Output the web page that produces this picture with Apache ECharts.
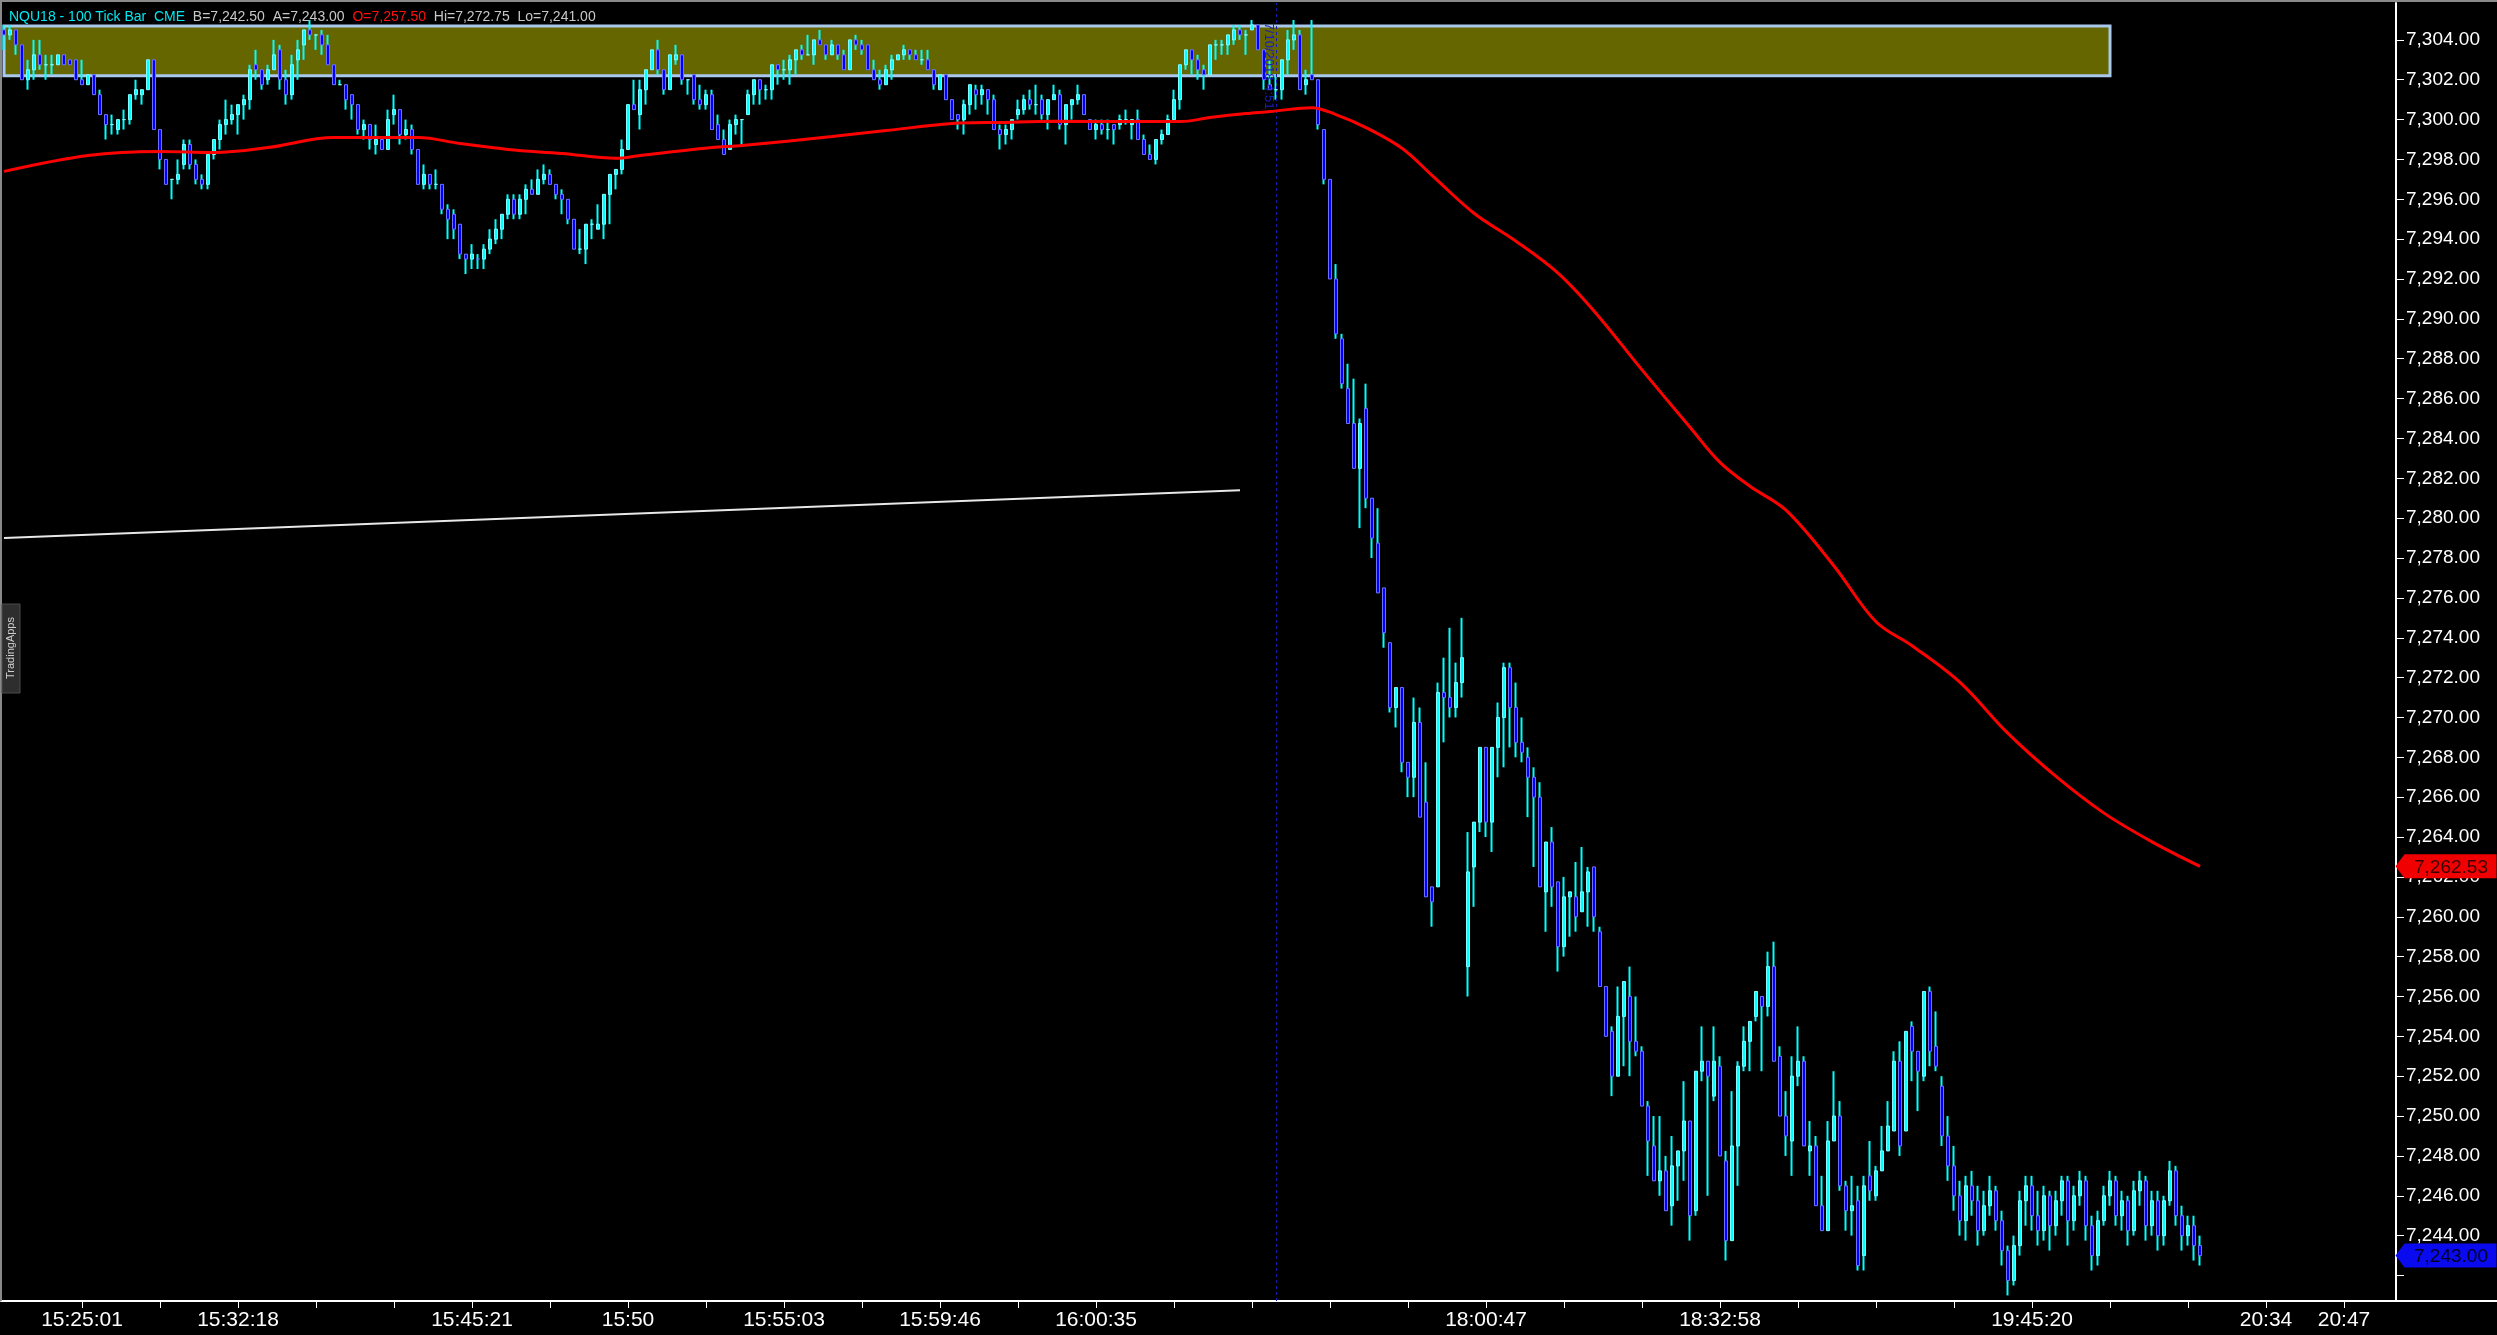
<!DOCTYPE html>
<html><head><meta charset="utf-8">
<script src="https://cdn.jsdelivr.net/npm/echarts@6/dist/echarts.min.js"></script>
<style>html,body{margin:0;padding:0;background:#000;overflow:hidden}#c{width:2497px;height:1335px}</style>
</head><body><div id="c"></div><script>
// ---- data (100 tick bars) ----
const opens = [
7304.5,7304.25,7304.5,7303.75,7302,7302.5,7303.25,7302.75,7302.75,7302.75,
7303.25,7303,7303,7302,7301.75,7302.25,7301.25,7300.25,7299.75,7299.5,
7300,7300,7301.25,7301.25,7301.5,7303,7299.5,7298,7297,7297,
7297.75,7298.75,7297.75,7297,7296.75,7298.25,7299,7299.75,7300,7300.25,
7300.75,7301,7302.75,7302.5,7302,7302.5,7303.5,7302,7301.25,7303,
7303.75,7304.5,7304.25,7304.25,7303.75,7302.75,7301.75,7301.75,7301.25,7300.75,
7299.5,7299.75,7298.75,7299,7298.5,7300.25,7300.5,7299.25,7299.5,7298.5,
7296.75,7297.25,7296.75,7296.75,7295.5,7295.25,7294.75,7293.25,7293,7293,
7293,7293.5,7294,7294.5,7295.25,7296,7295.25,7296,7296.5,7296.25,
7297,7297.25,7296.75,7296.25,7296,7295,7293.5,7293.5,7294.75,7294.5,
7294.75,7296.25,7297.25,7297.5,7298.5,7300.75,7300.25,7301.5,7302.5,7303.5,
7302.5,7301.5,7303,7303.25,7302,7302.25,7301,7300.75,7301.25,7299.75,
7299,7298.5,7299.75,7300,7300.25,7301.25,7302,7301.5,7301.5,7302.75,
7302.5,7302.5,7303,7303.5,7303.25,7303.25,7304,7303.75,7303.25,7303.75,
7303.25,7302.5,7304,7303.75,7303.75,7302.5,7302,7301.75,7302.5,7303,
7303.25,7303.5,7303.25,7303,7303,7302.5,7301.5,7302.25,7301,7300.25,
7300,7300.75,7301.5,7301.25,7301.5,7301,7299.5,7299.25,7299.5,7300.25,
7300.5,7301,7300.75,7301,7300.25,7301,7301.25,7299.75,7300.75,7301,
7301.25,7300,7299.5,7299.75,7299.5,7299.75,7299.75,7300,7299.75,7300,
7299,7298.25,7298,7299,7299.25,7300,7301,7302.75,7303.5,7303,
7302.5,7302.25,7303.75,7303.75,7303.75,7304,7304.5,7304.25,7304.5,7304.75,
7303.5,7301.75,7301.5,7301.5,7303,7304,7304.25,7301.75,7302.25,7302,
7299.5,7297,7292,7289,7286.5,7284.75,7282.5,7285.5,7281,7278.75,
7276.5,7273.75,7270.5,7271.5,7267.75,7267,7269.75,7265.75,7261.5,7261.5,
7271.25,7271,7270.5,7271.75,7257.5,7262.5,7264.75,7268.5,7264.75,7268.5,
7270,7272.5,7270.5,7268.75,7268,7267,7266,7261.25,7263.75,7261.75,
7258.5,7261,7261,7260.25,7261.25,7262.5,7259.25,7256.5,7254.25,7252,
7255,7256,7253.75,7253.25,7250.5,7248.5,7246.75,7247.25,7245.5,7247.5,
7248.25,7249.75,7245.25,7252.25,7252.75,7251,7252.5,7247.75,7243.75,7248.5,
7252.5,7253.75,7255,7256,7255.5,7257.5,7253,7250,7248.75,7252,
7252.75,7248.25,7248.5,7245.5,7244.25,7248.75,7250,7246.5,7245.25,7245.75,
7243,7247,7246,7247.25,7248.25,7249.25,7252.75,7249.25,7254.5,7253.25,
7252,7256.25,7253.5,7251.5,7249,7247.5,7246,7244.75,7246.5,7245.75,
7244.25,7245.5,7246.25,7244.75,7243.25,7241.75,7243.5,7245.75,7246.5,7245,
7244.25,7246,7244.5,7245.75,7246.75,7244.75,7246,7246.75,7244.5,7243,
7244.75,7246,7246.75,7245,7245.75,7244.25,7246.25,7246.75,7244.5,7245.75,
7244,7245.75,7247.25,7245,7244,7244.5,7243.5
];
const closes = [
7304.25,7304.5,7303.75,7302,7302.5,7303.25,7302.75,7302.75,7302.75,7303.25,
7302.75,7302.75,7302,7301.75,7302.25,7301.25,7300.25,7299.75,7299.75,7300,
7300,7301.25,7301.5,7301.5,7303,7299.5,7298,7296.75,7297,7297.25,
7298.75,7297.75,7297,7296.75,7298.25,7299,7299.75,7300,7300.25,7300.75,
7301,7302.5,7302.5,7301.75,7302.5,7303.25,7302,7301.25,7302.75,7303.5,
7304.5,7304.25,7304.25,7303.75,7302.75,7301.75,7301.75,7301,7300.75,7299.5,
7299.75,7299,7299,7298.5,7300,7300.5,7299.25,7299.5,7298.5,7296.75,
7297.25,7296.75,7296.75,7295.5,7295,7294.5,7293.25,7293,7293.25,7293,
7293.5,7294,7294.5,7295.25,7296,7295.25,7296,7296.5,7296.25,7297,
7297.25,7296.75,7296.25,7296,7295,7293.5,7293.5,7294.75,7294.75,7294.75,
7296.25,7297.25,7297.5,7298.5,7300.75,7300.5,7301.5,7302.5,7303.5,7302.5,
7301.5,7303.25,7303.25,7302,7302,7301,7300.75,7301.25,7299.5,7299,
7298.25,7299.75,7300,7300,7301.25,7302,7301.5,7301.5,7302.75,7302.5,
7302.5,7303,7303.5,7303.25,7303.25,7304,7303.75,7303.25,7303.75,7303.25,
7302.5,7304,7303.75,7303.5,7302.5,7302,7301.75,7302.5,7303,7303.25,
7303.5,7303.25,7303,7303,7302.5,7301.75,7302.25,7301,7300,7300,
7300.75,7301.75,7301.25,7301.5,7301,7299.5,7299.25,7299.5,7300,7300.5,
7301,7300.75,7300.75,7300.25,7301,7301.25,7299.75,7300.75,7301,7301.25,
7300.25,7299.5,7299.75,7299.5,7299.5,7299.5,7300,7300,7300,7299,
7298.25,7298,7299,7299.25,7300,7301,7302.75,7303.5,7303,7302.5,
7302.25,7303.75,7303.75,7303.75,7304.25,7304.5,7304.25,7304.25,7304.75,7303.5,
7302,7301.5,7301.5,7303,7304,7304.25,7301.5,7302,7302,7299.75,
7297,7292,7289.25,7286.75,7284.75,7282.5,7284.75,7281,7279,7276.25,
7274.25,7270.5,7271.5,7267.75,7267,7269.75,7265,7261,7260.75,7271.25,
7271,7270.5,7271.75,7273,7262.25,7264.75,7268.5,7264.75,7268.5,7270,
7272.5,7270.5,7268.75,7268.25,7267,7266,7261.5,7263.75,7261.5,7258.5,
7261,7261.25,7260,7261.25,7262.25,7260,7256.5,7254,7252,7255,
7256.75,7253.75,7253.25,7250.5,7248.75,7246.75,7247.25,7245.25,7247.5,7248.25,
7249.75,7245,7252.25,7252.75,7252,7252.75,7248,7243.75,7248.5,7252.5,
7253.75,7254.75,7256.25,7255.5,7257.5,7252.75,7250,7249,7252,7252.75,
7248.5,7248.5,7245.5,7244.25,7248.75,7250,7246.5,7245.25,7245.5,7242.5,
7246.5,7246.25,7247.25,7248.25,7249.5,7252.75,7248.5,7254.25,7253.25,7252.25,
7256.25,7253.25,7252.5,7249,7247.5,7246,7244.75,7246.5,7245.75,7244.25,
7245.5,7246.25,7244.75,7243.25,7241.75,7243.5,7245.75,7246.5,7245,7244.25,
7246,7244.5,7245.75,7246.75,7244.75,7246,7246.75,7244.5,7243,7244.75,
7246,7246.75,7245,7245.75,7244.25,7246.25,7246.75,7244.5,7245.75,7244,
7245.75,7247.25,7245,7244,7244.5,7243.5,7243
];
const lows = [
7303.5,7304,7303.25,7302,7301.5,7302,7302.5,7302,7302.25,7302.75,
7302.75,7302.75,7302,7301.75,7301.75,7301.25,7300.25,7299,7299.25,7299.25,
7299.5,7299.75,7301,7300.75,7301.5,7299.5,7297.5,7296.75,7296,7296.75,
7297.5,7297.5,7296.75,7296.5,7296.5,7298,7298.5,7299.25,7299.75,7299.25,
7300,7300.5,7302,7301.5,7301.75,7302.5,7301.5,7300.75,7301,7302,
7303,7304,7303.5,7303.25,7302.75,7301.75,7301.75,7300.5,7300,7299.25,
7299,7298.5,7298.25,7298.5,7298.5,7299.75,7298.75,7299,7298.25,7296.75,
7296.5,7296.5,7296.5,7295.25,7294,7294,7293,7292.25,7292.5,7292.5,
7292.5,7293.25,7293.75,7294,7295,7295,7295,7295.25,7296.25,7296.25,
7296.75,7296.75,7296,7295.25,7294.75,7293.5,7293.25,7292.75,7294,7294.5,
7294,7294.75,7296.5,7297.25,7298.5,7300.5,7299.5,7300.75,7302.5,7302.25,
7301.25,7301.5,7302.75,7301.75,7301.25,7300.75,7300.5,7300.5,7299.5,7299,
7298.25,7298.5,7299.25,7298.75,7300.25,7300.75,7300.75,7301,7301,7301.75,
7302,7301.75,7302.25,7303,7303.25,7302.75,7303.75,7303,7303.25,7303,
7302.5,7302.5,7303.5,7303.25,7302.5,7302,7301.5,7301.75,7302,7303,
7303,7303,7303,7302.75,7302.5,7301.5,7301.5,7301,7300,7299.5,
7299.25,7300.25,7300.5,7300.75,7300.25,7299.5,7298.5,7298.75,7299,7300,
7300.25,7300.5,7300.25,7300,7299.5,7301,7299.5,7298.75,7300,7300.75,
7300.25,7299.5,7299,7299.25,7299,7298.75,7299.5,7299.75,7299,7299,
7298.25,7298,7297.75,7298.75,7299.25,7300,7300.5,7302.5,7302.25,7302,
7301.5,7302.25,7303,7303.25,7303.25,7303.75,7304,7303.25,7304.5,7303.5,
7301.5,7301.5,7301,7301,7302.25,7303.5,7301.5,7301.25,7302,7299.5,
7296.75,7292,7289,7286.5,7284.75,7282.5,7279.5,7280.5,7278,7276.25,
7273.5,7270.25,7269.5,7267.25,7266,7266,7265,7261,7259.5,7261.5,
7268.75,7270,7270,7271,7256,7260.5,7264.25,7264,7263.25,7267,
7267.5,7268.5,7268,7267.75,7265,7262.5,7261.5,7259.25,7260.5,7257.25,
7258,7259,7259.25,7260.25,7259.5,7259.25,7256.5,7254,7251,7252,
7252.5,7252,7253,7250.5,7247,7246.75,7246,7245.25,7244.5,7245.75,
7246.75,7243.75,7245,7251.75,7246,7250.75,7248,7242.75,7243.75,7246.5,
7252.25,7252.25,7254.75,7252.25,7255,7252.75,7250,7248,7247,7251.5,
7248.5,7247,7245.5,7244.25,7244.25,7248.75,7246.25,7244.25,7244,7242.25,
7242.25,7245.75,7245.75,7247.25,7248.25,7249.25,7248,7249.25,7251.75,7250.25,
7251.75,7252.5,7252.25,7248.5,7246.75,7245.25,7244,7243.75,7245,7243.5,
7244,7245,7244.25,7242.5,7241,7241.5,7243,7244.5,7244.25,7243.5,
7243.75,7243.25,7244,7245,7243.5,7244.25,7245.5,7243.75,7242.25,7242.5,
7244.5,7245.5,7244.5,7244.25,7243.5,7244,7245.5,7243.75,7244,7243.25,
7243.5,7245.5,7244.5,7243.25,7243.5,7242.75,7242.5
];
const highs = [
7304.75,7304.75,7304.5,7303.75,7303,7304,7304,7303.25,7303.25,7303.25,
7303.25,7303,7303,7303,7302.25,7302.25,7301.5,7300.25,7300.25,7300,
7300.5,7301.25,7302,7301.5,7303,7303,7299.5,7298,7297,7298,
7299,7299,7298,7297.25,7298.25,7299,7300,7301,7300.75,7300.75,
7301.25,7302.75,7303.5,7302.5,7302.75,7304,7303.75,7302.5,7303.25,7304,
7304.5,7305,7304.25,7304.5,7304.25,7302.75,7302,7301.75,7301.25,7300.75,
7300,7299.75,7299.75,7299,7300.5,7301.25,7300.5,7300,7299.75,7298.5,
7297.75,7297.25,7297.5,7296.75,7295.75,7295.5,7294.75,7293.25,7293.75,7293.25,
7293.75,7294.5,7295,7295.25,7296.25,7296.25,7296.25,7296.75,7297,7297.5,
7297.75,7297.5,7296.75,7296.5,7296,7295,7294.5,7294.75,7295,7295.75,
7296.25,7297.25,7297.5,7299,7300.75,7302,7302,7302.5,7303.5,7304,
7302.5,7303.25,7303.75,7303.25,7302,7302.25,7301.75,7301.5,7301.5,7300.25,
7299.5,7300,7300.25,7300,7301.5,7302,7302,7301.75,7302.75,7302.75,
7303,7303.25,7303.5,7303.75,7304.25,7304,7304.5,7303.75,7304,7303.75,
7303.5,7304,7304.25,7304,7303.75,7303,7302.5,7302.75,7303.25,7303.25,
7303.75,7303.5,7303.5,7303.5,7303.5,7302.5,7302.25,7302.25,7301,7300.25,
7301,7301.75,7301.75,7301.75,7301.5,7301.25,7299.75,7299.75,7300,7301,
7301.25,7301.5,7301.75,7301.25,7301,7301.75,7301.5,7300.75,7301,7301.75,
7301.25,7300,7300,7300,7300,7299.75,7300.25,7300.5,7300,7300.5,
7299.25,7298.75,7299,7299.5,7300.25,7301.5,7302.75,7303.5,7303.5,7303.25,
7302.75,7303.75,7304,7304,7304.25,7304.75,7304.75,7304.5,7305,7304.75,
7303.5,7303,7302.25,7303,7304.5,7305,7304.5,7302.5,7305,7302,
7299.5,7297,7292.75,7289.25,7287.75,7287,7285,7286.75,7281,7280.5,
7276.5,7273.75,7271.5,7271.5,7267.75,7271,7270.5,7267.75,7261.5,7271.75,
7273,7274.5,7272.75,7275,7264.25,7264.75,7268.5,7268.5,7268.5,7270.75,
7272.75,7272.75,7271.75,7270,7268.5,7267.5,7266.75,7263.75,7264.5,7261.75,
7262,7261.25,7262.75,7263.5,7262.5,7262.5,7259.5,7256.5,7254.5,7256.5,
7256.75,7257.5,7256,7253.5,7250.75,7250,7250,7248,7249,7248.25,
7251.75,7249.75,7252.25,7254.5,7252.75,7254.5,7253,7248.25,7251.25,7252.75,
7254.5,7254.75,7256.25,7256,7258.25,7258.75,7253.5,7251.25,7253,7254.5,
7253,7249.75,7249,7247,7249.75,7252.25,7250.75,7246.75,7247,7246.5,
7247,7248.75,7247.5,7249.5,7250.75,7253.25,7253.75,7254.25,7254.75,7253.25,
7256.25,7256.5,7255.25,7252,7250,7248.5,7246.75,7247,7247.25,7246.5,
7246.25,7247,7246.5,7245.25,7243.5,7244,7246.25,7247,7247,7246.25,
7246.5,7246.25,7246.25,7247,7247,7246.5,7247.25,7247,7245,7245.25,
7246.5,7247.25,7247,7246.25,7246,7246.75,7247.25,7247,7246.25,7246.25,
7246,7247.75,7247.5,7245.5,7245,7245,7244
];
// moving average (knots: bar index, value)
const maIndex = [0,14,26,35,44,55,69,76,84,93,102,106,118,123,138,147,158,166,175,189,196,201,207,211,218,222,227,233,238,245,252,259,265,273,281,286,291,297,305,312,318,326,334,342,350,358,366];
const maValue = [7297.4,7298.2,7298.4,7298.35,7298.6,7299.1,7299.1,7298.8,7298.5,7298.3,7298.06,7298.2,7298.6,7298.7,7299.15,7299.45,7299.8,7299.86,7299.92,7299.9,7299.9,7300.1,7300.3,7300.4,7300.6,7300.25,7299.6,7298.56,7297.2,7295.3,7293.9,7292.3,7290.4,7287.44,7284.56,7282.8,7281.6,7280.4,7277.6,7274.8,7273.6,7271.76,7269.2,7267.04,7265.2,7263.76,7262.53];
// white trend line (bar index, price)
const trendX = [0, 206];
const trendY = [7279.0, 7281.4];
// resistance zone
const zoneLow = 7302.2, zoneHigh = 7304.7, zoneEndBar = 351;
// time axis
const tickBars = [13,26,39,52,65,78,91,104,117,130,143,156,169,182,195,208,221,234,247,260,273,286,299,312,325,338,351,364,377,390];
const labelBars = [13,39,78,104,130,156,182,247,286,338,377,390];
const labelTexts = ['15:25:01','15:32:18','15:45:21','15:50','15:55:03','15:59:46','16:00:35','18:00:47','18:32:58','19:45:20','20:34','20:47'];
const priceTicks = [7242,7244,7246,7248,7250,7252,7254,7256,7258,7260,7262,7264,7266,7268,7270,7272,7274,7276,7278,7280,7282,7284,7286,7288,7290,7292,7294,7296,7298,7300,7302,7304];
const priceLabels = priceTicks.filter(v => v >= 7244);
const lastMA = 7262.53, lastPrice = 7243.00;
const dividerBar = 212;
const dividerText = '7/10/2018 4:51';
const header = {sym:'NQU18 - 100 Tick Bar', exch:'CME', bid:'B=7,242.50', ask:'A=7,243.00', open:'O=7,257.50', hi:'Hi=7,272.75', lo:'Lo=7,241.00'};

// ---- build ----
const NCAT = 416;
const cats = Array.from({length: NCAT}, (_, i) => String(i));
const fmt = v => Number(v).toLocaleString('en-US', {minimumFractionDigits: 2, maximumFractionDigits: 2});
const ohlc = opens.map((o, i) => [o, closes[i], lows[i], highs[i]]);
const bodies = opens.map((o, i) => [o, closes[i], Math.min(o, closes[i]), Math.max(o, closes[i])]);
const FONT = "'Liberation Sans', Arial, sans-serif";
const arrow = 'path://M0,12L9,0L101,0L101,24L9,24Z';

const chart = echarts.init(document.getElementById('c'), null, {renderer: 'canvas'});
const baseGraphic = [
  {type: 'line', shape: {x1: 1, y1: 0, x2: 1, y2: 1301}, style: {stroke: '#8a8a8a', lineWidth: 2}, z: 50},
  {type: 'line', shape: {x1: 0, y1: 1, x2: 2497, y2: 1}, style: {stroke: '#8a8a8a', lineWidth: 2}, z: 50},
  {type: 'rect', shape: {x: 2, y: 604, width: 18, height: 89}, style: {fill: '#2e2e2e', stroke: '#4a4a4a'}, z: 50},
  {type: 'text', x: 11, y: 648, rotation: Math.PI / 2,
   style: {text: 'TradingApps', fill: '#cfcfcf', font: "11px " + FONT, textAlign: 'center', textVerticalAlign: 'middle'}, z: 51}
];
chart.setOption({
  backgroundColor: '#000',
  animation: false,
  title: {
    left: 4, top: 5,
    text: '{c|' + header.sym + '  ' + header.exch + '}  {g|' + header.bid + '  ' + header.ask + '}  {r|' + header.open + '}  {g|' + header.hi + '  ' + header.lo + '}',
    textStyle: {
      fontSize: 14, fontFamily: FONT, fontWeight: 'normal',
      rich: {
        c: {color: '#00e8f0', fontSize: 14, fontFamily: FONT},
        g: {color: '#c8c8c8', fontSize: 14, fontFamily: FONT},
        r: {color: '#ff1010', fontSize: 14, fontFamily: FONT}
      }
    }
  },
  grid: {left: 1, right: 0, top: 3, bottom: 34, containLabel: false},
  xAxis: {
    type: 'category', data: cats, boundaryGap: true,
    axisLine: {lineStyle: {color: '#ffffff', width: 2}},
    axisTick: {show: true, alignWithLabel: true, length: 7, lineStyle: {color: '#ffffff'},
      interval: (idx) => tickBars.indexOf(idx) >= 0},
    axisLabel: {color: '#ffffff', fontSize: 21, fontFamily: FONT, margin: 9,
      interval: (idx) => labelBars.indexOf(idx) >= 0,
      formatter: (v, idx) => { const k = labelBars.indexOf(Number(v)); return k >= 0 ? labelTexts[k] : ''; }},
    splitLine: {show: false}
  },
  yAxis: {
    type: 'value', position: 'right', offset: -101,
    min: 7240.72, max: 7305.85, scale: true,
    axisLine: {show: true, lineStyle: {color: '#ffffff', width: 2}},
    axisTick: {show: true, length: 8, lineStyle: {color: '#ffffff'}, customValues: priceTicks},
    axisLabel: {color: '#ffffff', fontSize: 19, fontFamily: FONT, margin: 10, customValues: priceLabels, formatter: fmt},
    splitLine: {show: false}
  },
  series: [
    { // zone + divider
      type: 'line', data: [], z: 1, silent: true,
      markArea: {silent: true,
        itemStyle: {color: '#666600', borderColor: '#a8c8ec', borderWidth: 3},
        data: [[{xAxis: 0, yAxis: zoneLow}, {xAxis: zoneEndBar, yAxis: zoneHigh}]]},
      markLine: {silent: true, symbol: 'none', label: {show: false},
        lineStyle: {color: '#1a1ab4', type: [3, 3], width: 1},
        data: [{xAxis: dividerBar}]}
    },
    { // trend line
      type: 'line', z: 2, silent: true, showSymbol: false,
      data: trendX.map((x, k) => [x, trendY[k]]),
      lineStyle: {color: '#e8e8e8', width: 2}
    },
    { // wicks
      type: 'candlestick', z: 3, silent: true, barWidth: 1,
      data: ohlc,
      itemStyle: {color: '#00ffff', color0: '#00ffff', borderColor: '#00ffff', borderColor0: '#00ffff', borderWidth: 2}
    },
    { // bodies
      type: 'candlestick', z: 4, silent: true, barWidth: 4,
      data: bodies,
      itemStyle: {color: '#00ffff', color0: '#0000ff', borderColor: '#7ffcff', borderColor0: '#7070ff', borderWidth: 1}
    },
    { // moving average
      type: 'line', z: 5, silent: true, showSymbol: false, smooth: 0.35,
      data: maIndex.map((x, k) => [x, maValue[k]]),
      lineStyle: {color: '#ff0000', width: 3},
      markPoint: {silent: true, symbol: arrow, symbolSize: [101, 24], symbolKeepAspect: false,
        data: [
          {coord: [407, lastMA], itemStyle: {color: '#f00000'},
           label: {show: true, formatter: fmt(lastMA), color: '#3a0000', fontSize: 19, fontFamily: FONT, offset: [5, 1]}},
          {coord: [407, lastPrice], itemStyle: {color: '#0a0aee'},
           label: {show: true, formatter: fmt(lastPrice), color: '#000020', fontSize: 19, fontFamily: FONT, offset: [5, 1]}}
        ]}
    }
  ],
  graphic: baseGraphic
});
// divider date label, placed next to the divider bar via the axis scale
const px = chart.convertToPixel({xAxisIndex: 0}, dividerBar);
chart.setOption({graphic: baseGraphic.concat([
  {type: 'text', x: px - 7, y: 66, rotation: -Math.PI / 2, z: 40,
   style: {text: dividerText, fill: '#1c1cc0', font: "13px " + FONT, textAlign: 'center', textVerticalAlign: 'middle'}}
])});
</script></body></html>
